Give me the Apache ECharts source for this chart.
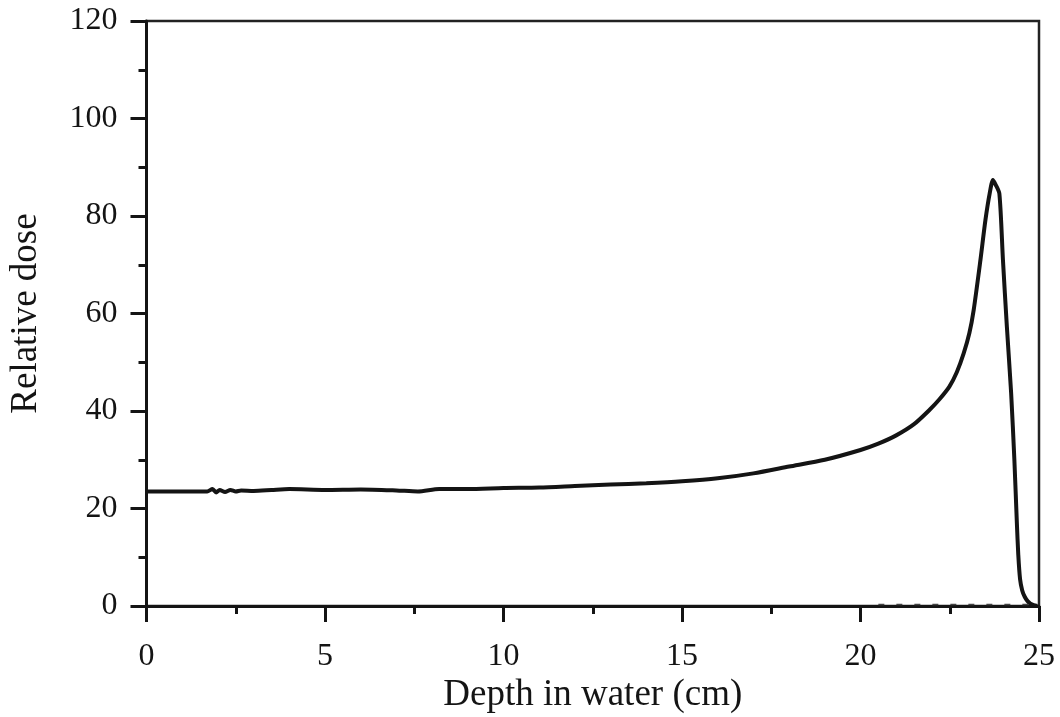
<!DOCTYPE html>
<html>
<head>
<meta charset="utf-8">
<script src="https://cdn.jsdelivr.net/npm/echarts@6/dist/echarts.min.js"></script>
<style>
html,body{margin:0;padding:0;background:#fff;}
#chart{width:1060px;height:717px;}
</style>
</head>
<body>
<div id="chart"></div>
<script>
// Depth (cm) and relative dose of the Bragg curve
const depth = [0, 1.7, 1.85, 1.95, 2.05, 2.2, 2.35, 2.5, 2.65, 3.0, 3.5, 4.0, 5.0, 6.0, 7.0, 7.6, 8.2, 9.0, 10.0, 11.0, 12.0, 13.0, 14.0, 15.0, 16.0, 17.0, 18.0, 19.0, 20.0, 20.5, 21.0, 21.5, 21.93, 22.2, 22.49, 22.7, 22.89, 23.05, 23.17, 23.36, 23.5, 23.62, 23.71, 23.78, 23.89, 23.99, 24.1, 24.22, 24.31, 24.38, 24.42, 24.47, 24.53, 24.6, 24.68, 24.76, 24.85, 24.95];
const dose  = [23.5, 23.5, 24.0, 23.3, 23.8, 23.4, 23.8, 23.5, 23.7, 23.6, 23.8, 24.0, 23.8, 23.9, 23.7, 23.5, 24.0, 24.0, 24.2, 24.3, 24.6, 24.9, 25.2, 25.6, 26.2, 27.2, 28.6, 30.0, 32.0, 33.3, 35.0, 37.3, 40.2, 42.3, 45.0, 48.0, 51.8, 56.0, 60.7, 71.0, 79.2, 84.7, 87.4, 86.5, 84.6, 71.0, 57.3, 43.6, 30.0, 17.0, 10.5, 5.5, 3.2, 1.9, 1.0, 0.5, 0.2, 0.0];
// faint dashed trace near zero
const depth2 = [20.5, 21.5, 22.5, 23.5, 24.5, 24.9];
const dose2  = [0.3, 0.3, 0.3, 0.3, 0.3, 0.3];
const xTicks = [0, 5, 10, 15, 20, 25];
const yTicks = [0, 20, 40, 60, 80, 100, 120];

const toPairs = (xs, ys) => xs.map((x, i) => [x, ys[i]]);
const font = 'Liberation Serif, Times New Roman, serif';
const ink = '#141414';

const chart = echarts.init(document.getElementById('chart'), null, {renderer: 'canvas'});
chart.setOption({
  animation: false,
  backgroundColor: '#ffffff',
  grid: {left: 146.5, right: 21, top: 21, bottom: 111, show: true, borderColor: '#222', borderWidth: 2.5,
         backgroundColor: 'transparent', containLabel: false, outerBoundsMode: 'none'},
  xAxis: {
    type: 'value', min: xTicks[0], max: xTicks[xTicks.length - 1], interval: 5,
    name: 'Depth in water (cm)', nameLocation: 'middle', nameGap: 71, nameMoveOverlap: false,
    nameTextStyle: {fontFamily: font, fontSize: 37, color: ink},
    axisLine: {show: true, onZero: false, lineStyle: {color: ink, width: 3}},
    axisTick: {show: true, inside: false, length: 16, lineStyle: {color: ink, width: 3}},
    minorTick: {show: true, splitNumber: 2, length: 8, lineStyle: {color: ink, width: 3}},
    axisLabel: {fontFamily: font, fontSize: 32, color: ink, margin: 35},
    splitLine: {show: false}
  },
  yAxis: {
    type: 'value', min: yTicks[0], max: yTicks[yTicks.length - 1], interval: 20,
    name: 'Relative dose', nameLocation: 'middle', nameGap: 102, nameMoveOverlap: false,
    nameTextStyle: {fontFamily: font, fontSize: 37, color: ink},
    axisLine: {show: true, onZero: false, lineStyle: {color: ink, width: 3}},
    axisTick: {show: true, inside: false, length: 16, lineStyle: {color: ink, width: 3}},
    minorTick: {show: true, splitNumber: 2, length: 8, lineStyle: {color: ink, width: 3}},
    axisLabel: {fontFamily: font, fontSize: 32, color: ink, margin: 29},
    splitLine: {show: false}
  },
  series: [
    {type: 'line', data: toPairs(depth, dose), showSymbol: false, smooth: 0.25,
     lineStyle: {color: ink, width: 4}, z: 5},
    {type: 'line', data: toPairs(depth2, dose2), showSymbol: false,
     lineStyle: {color: '#444', width: 1.5, type: [6, 12]}, z: 4}
  ]
});
</script>
</body>
</html>
